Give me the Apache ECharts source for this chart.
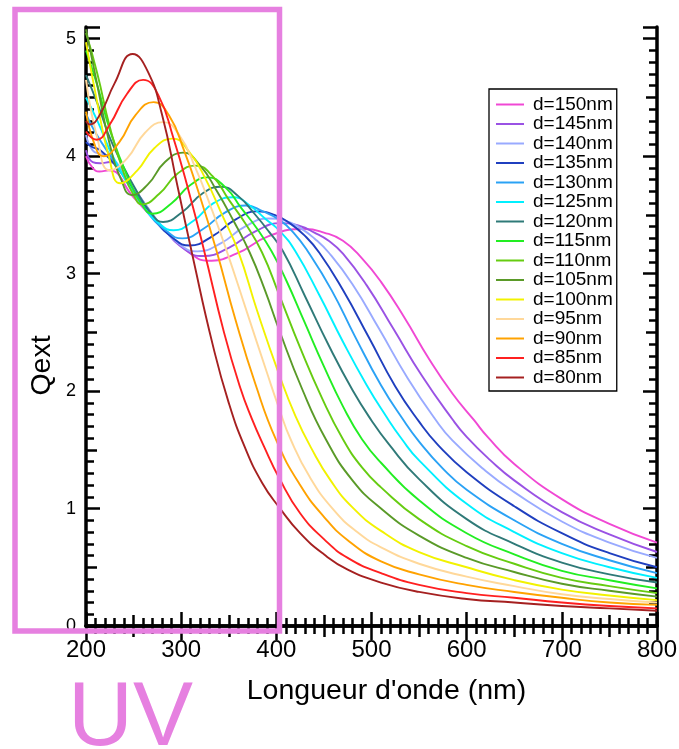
<!DOCTYPE html>
<html>
<head>
<meta charset="utf-8">
<script src="https://cdn.jsdelivr.net/npm/echarts/dist/echarts.min.js"></script>
<style>html,body{margin:0;padding:0;background:#fff}#c{width:679px;height:749px}</style>
</head>
<body>
<div id="c"></div>
<script>
// ---- data: [wavelength (nm), Qext] ----
const d150 = [[200,4.00],[207,3.90],[214,3.87],[224,3.88],[250,3.65],[285,3.35],[310,3.17],[328,3.11],[358,3.17],[392,3.32],[430,3.38],[450,3.35],[470,3.28],[490,3.13],[510,2.93],[535,2.62],[560,2.28],[585,1.98],[608,1.75],[622,1.61],[650,1.38],[700,1.08],[750,0.87],[800,0.71]];
const d145 = [[200,4.05],[207,3.95],[215,3.94],[225,3.95],[245,3.78],[280,3.40],[305,3.20],[323,3.15],[350,3.22],[378,3.36],[405,3.43],[423,3.41],[440,3.35],[455,3.28],[470,3.17],[495,2.90],[523,2.53],[553,2.13],[585,1.76],[600,1.61],[625,1.41],[650,1.24],[700,0.97],[750,0.78],[800,0.63]];
const d140 = [[200,4.18],[207,4.05],[215,4.02],[225,4.00],[240,3.85],[275,3.45],[300,3.24],[317,3.19],[342,3.26],[367,3.40],[392,3.47],[410,3.45],[425,3.39],[440,3.30],[455,3.18],[480,2.91],[508,2.53],[538,2.11],[567,1.76],[585,1.58],[620,1.32],[650,1.14],[700,0.89],[750,0.71],[800,0.58]];
const d135 = [[200,4.12],[206,4.08],[215,4.05],[235,3.88],[268,3.50],[292,3.30],[309,3.24],[333,3.32],[357,3.46],[380,3.53],[398,3.50],[414,3.43],[429,3.33],[445,3.18],[470,2.86],[497,2.46],[525,2.04],[550,1.74],[570,1.54],[600,1.31],[650,1.02],[700,0.79],[750,0.62],[800,0.50]];
const d130 = [[200,4.36],[210,4.20],[230,3.95],[262,3.55],[285,3.36],[301,3.30],[323,3.38],[346,3.52],[368,3.58],[386,3.53],[403,3.46],[418,3.35],[433,3.19],[458,2.86],[483,2.46],[510,2.05],[533,1.76],[550,1.57],[575,1.34],[600,1.16],[650,0.90],[700,0.70],[750,0.56],[800,0.45]];
const d125 = [[200,4.50],[212,4.30],[230,3.97],[258,3.60],[278,3.42],[292,3.37],[313,3.45],[334,3.60],[355,3.65],[372,3.58],[388,3.47],[404,3.36],[420,3.19],[445,2.82],[470,2.42],[495,2.05],[515,1.79],[532,1.59],[550,1.41],[600,1.04],[650,0.80],[700,0.62],[750,0.50],[800,0.41]];
const d120 = [[200,4.69],[212,4.45],[228,4.10],[252,3.72],[268,3.52],[281,3.44],[302,3.53],[322,3.68],[342,3.74],[360,3.66],[377,3.51],[392,3.36],[407,3.19],[430,2.81],[455,2.39],[480,2.01],[500,1.75],[518,1.55],[550,1.25],[600,0.91],[650,0.70],[700,0.54],[750,0.44],[800,0.37]];
const d115 = [[200,4.90],[212,4.60],[226,4.20],[245,3.80],[258,3.60],[270,3.51],[290,3.60],[309,3.75],[328,3.82],[347,3.73],[363,3.56],[380,3.38],[395,3.19],[410,2.95],[430,2.58],[450,2.21],[470,1.87],[490,1.59],[510,1.39],[550,1.07],[600,0.79],[650,0.61],[700,0.47],[750,0.39],[800,0.32]];
const d110 = [[200,5.05],[212,4.70],[225,4.25],[240,3.85],[250,3.67],[259,3.59],[277,3.68],[296,3.85],[315,3.92],[333,3.83],[350,3.63],[368,3.42],[385,3.18],[403,2.82],[425,2.37],[448,1.94],[470,1.59],[490,1.35],[510,1.18],[550,0.91],[600,0.68],[650,0.53],[700,0.41],[750,0.34],[800,0.28]];
const d105 = [[200,5.08],[212,4.60],[225,4.10],[237,3.80],[248,3.67],[265,3.76],[283,3.95],[302,4.03],[320,3.92],[337,3.71],[355,3.45],[372,3.18],[388,2.86],[403,2.52],[427,2.02],[452,1.59],[480,1.24],[510,1.00],[550,0.77],[600,0.58],[650,0.46],[700,0.36],[750,0.30],[800,0.25]];
const d100 = [[200,4.97],[212,4.45],[224,4.00],[236,3.77],[254,3.88],[272,4.07],[291,4.15],[309,4.03],[326,3.80],[343,3.50],[360,3.19],[380,2.68],[403,2.14],[420,1.79],[437,1.51],[457,1.24],[480,1.01],[510,0.81],[550,0.63],[600,0.50],[650,0.39],[700,0.31],[750,0.26],[800,0.22]];
const d95  = [[200,4.65],[212,4.15],[225,3.88],[243,3.98],[262,4.20],[281,4.29],[298,4.18],[315,3.90],[332,3.55],[348,3.19],[368,2.70],[390,2.16],[403,1.85],[415,1.59],[435,1.27],[460,0.99],[485,0.80],[510,0.67],[550,0.53],[600,0.42],[650,0.34],[700,0.27],[750,0.23],[800,0.20]];
const d90  = [[200,4.38],[209,4.10],[218,4.00],[235,4.12],[252,4.35],[271,4.46],[287,4.35],[303,4.05],[320,3.65],[337,3.20],[357,2.61],[378,2.06],[400,1.58],[425,1.20],[450,0.93],[475,0.73],[510,0.55],[550,0.44],[600,0.35],[650,0.29],[700,0.24],[750,0.20],[800,0.18]];
const d85  = [[200,4.21],[211,4.14],[225,4.27],[243,4.53],[260,4.65],[276,4.52],[292,4.15],[308,3.70],[324,3.20],[345,2.50],[362,2.03],[374,1.77],[387,1.53],[403,1.26],[425,0.96],[450,0.74],[475,0.58],[510,0.45],[550,0.35],[600,0.28],[650,0.24],[700,0.20],[750,0.17],[800,0.15]];
const d80  = [[200,4.30],[204,4.27],[215,4.36],[230,4.62],[249,4.87],[265,4.72],[280,4.35],[296,3.75],[312,3.15],[333,2.40],[350,1.90],[367,1.52],[385,1.22],[403,1.01],[425,0.79],[450,0.61],[475,0.48],[510,0.37],[550,0.29],[600,0.23],[650,0.20],[700,0.17],[750,0.15],[800,0.13]];

const seriesNames = ['d=150nm','d=145nm','d=140nm','d=135nm','d=130nm','d=125nm','d=120nm','d=115nm','d=110nm','d=105nm','d=100nm','d=95nm','d=90nm','d=85nm','d=80nm'];
const seriesData = [d150,d145,d140,d135,d130,d125,d120,d115,d110,d105,d100,d95,d90,d85,d80];
const seriesColors = ['#f048d4','#9a52e4','#99aaff','#1f3fbf','#2aa2f5','#00f0ff','#2f7a78','#22ee22','#66cc11','#5a9a28','#f2f200','#ffd89a','#ffa200','#ff2020','#a52020'];

const xLabelTicks = [200,300,400,500,600,700,800];
const yLabelTicks = [0,1,2,3,4,5];
const xTitle = "Longueur d'onde (nm)";
const yTitle = 'Qext';
const boxLabel = 'UV';

const FONT = "'Liberation Sans', Arial, Helvetica, sans-serif";
const PINK = '#e680e0';

const chart = echarts.init(document.getElementById('c'), null, {renderer: 'canvas'});

function xAx(position, interval, len, main) {
  return {
    type: 'value', position: position, min: 200, max: 800, interval: interval,
    axisLine: {show: main, lineStyle: {color: '#000', width: 3.5}},
    axisTick: {show: true, inside: true, length: len, lineStyle: {color: '#000', width: 2.5}},
    axisLabel: {show: main && position === 'bottom', color: '#000', fontSize: 24, fontFamily: FONT, margin: 12,
      formatter: function (v) { return xLabelTicks.indexOf(v) >= 0 ? String(v) : ''; }},
    splitLine: {show: false},
    name: (main && position === 'bottom') ? xTitle : '',
    nameLocation: 'middle', nameGap: 51, nameMoveOverlap: false,
    nameTextStyle: {color: '#000', fontSize: 28.5, fontFamily: FONT, padding: [0, 0, 0, 30]}
  };
}
function yAx(position, interval, len, main) {
  return {
    type: 'value', position: position, min: 0, max: 5.1, interval: interval,
    axisLine: {show: main, lineStyle: {color: '#000', width: 3.5}},
    axisTick: {show: true, inside: true, length: len, lineStyle: {color: '#000', width: 2.5}},
    axisLabel: {show: main && position === 'left', color: '#000', fontSize: 18, fontFamily: FONT, margin: 10,
      formatter: function (v) {
        for (const t of yLabelTicks) { if (Math.abs(v - t) < 1e-6) return String(t); }
        return '';
      }},
    splitLine: {show: false},
    name: (main && position === 'left') ? yTitle : '',
    nameLocation: 'middle', nameGap: 29, nameMoveOverlap: false,
    nameTextStyle: {color: '#000', fontSize: 28.5, fontFamily: FONT, padding: [0, 78, 0, 0]}
  };
}

const option = {
  backgroundColor: '#fff',
  animation: false,
  grid: {left: 86, right: 22, top: 27, bottom: 123, containLabel: false, outerBoundsMode: 'none'},
  xAxis: [
    xAx('bottom', 100, 14, true), xAx('bottom', 50, 11, false), xAx('bottom', 10, 8, false),
    xAx('top', 100, 14, true), xAx('top', 50, 11, false), xAx('top', 10, 8, false)
  ],
  yAxis: [
    yAx('left', 1, 14, true), yAx('left', 0.5, 11, false), yAx('left', 0.1, 8, false),
    yAx('right', 1, 14, true), yAx('right', 0.5, 11, false), yAx('right', 0.1, 8, false)
  ],
  legend: {
    orient: 'vertical', left: 489, top: 89,
    padding: [6, 4, 4, 7], itemGap: 0.5, itemWidth: 28, itemHeight: 2,
    icon: 'rect',
    borderColor: '#000', borderWidth: 1.3, backgroundColor: '#fff',
    textStyle: {color: '#000', fontSize: 19, fontFamily: FONT, padding: [0, 0, 0, 4]},
    data: seriesNames
  },
  graphic: [
    {type: 'rect', z: 100, silent: true,
      shape: {x: 15, y: 9.5, width: 264.5, height: 621.5},
      style: {fill: 'none', stroke: PINK, lineWidth: 5.5}},
    {type: 'text', z: 100, silent: true,
      style: {x: 68, y: 720, text: boxLabel, fill: PINK, font: '90px ' + FONT, textAlign: 'left', textVerticalAlign: 'middle'}}
  ],
  series: seriesNames.map(function (n, i) {
    return {
      type: 'line', name: n, data: seriesData[i], xAxisIndex: 0, yAxisIndex: 0,
      symbol: 'none', showSymbol: false, smooth: 0.5,
      lineStyle: {width: 1.9, color: seriesColors[i]},
      itemStyle: {color: seriesColors[i]},
      emphasis: {disabled: true}
    };
  })
};
chart.setOption(option);
</script>
</body>
</html>
